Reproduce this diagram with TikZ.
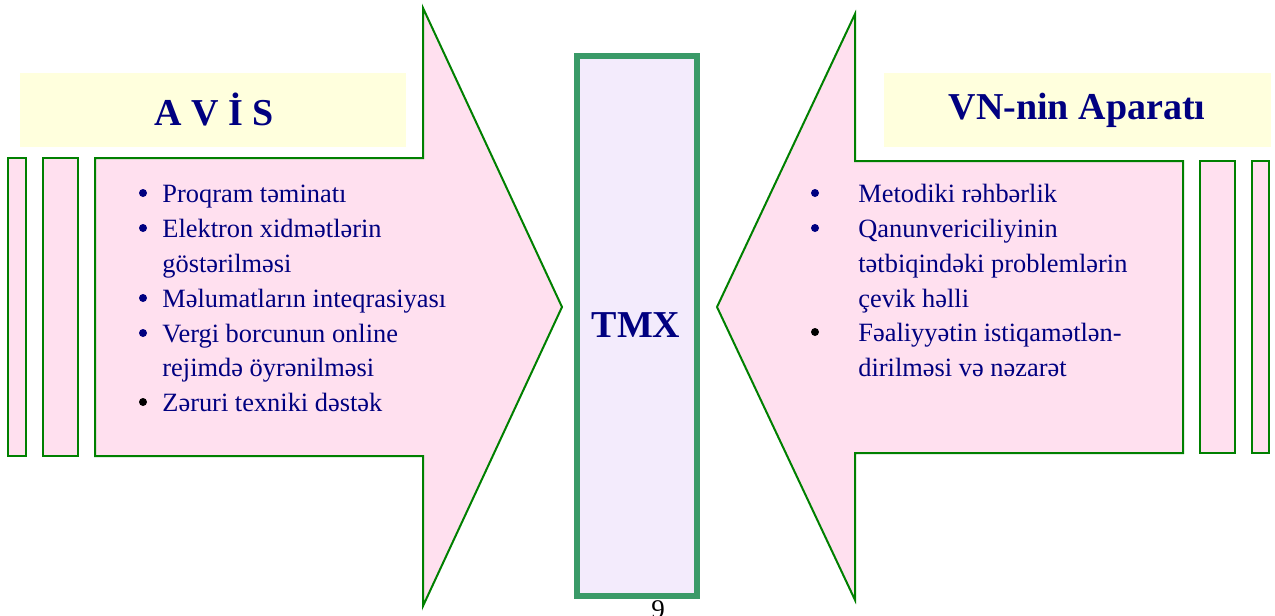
\documentclass[tikz,border=0pt]{standalone}
\usepackage{fontspec}
\setmainfont{Liberation Serif}
\definecolor{navyblue}{HTML}{000080}
\definecolor{arrowfill}{HTML}{FFE0EF}
\definecolor{arrowline}{HTML}{008000}
\definecolor{titlefill}{HTML}{FFFFDD}
\definecolor{tmxfill}{HTML}{F3EBFC}
\definecolor{tmxline}{HTML}{3A9A68}
\tikzset{
  arrowshape/.style={fill=arrowfill, draw=arrowline, line width=1pt, line join=miter},
  titlebox/.style={fill=titlefill, draw=none},
  titletext/.style={font=\fontsize{19}{23}\bfseries\selectfont, text=navyblue, inner sep=0pt},
  linetext/.style={anchor=base west, inner sep=0pt, font=\fontsize{13.2}{17}\selectfont, text=navyblue},
  bulletmark/.style={circle, fill=navyblue, inner sep=0pt, minimum size=4pt},
}
\begin{document}
\begin{tikzpicture}[x=0.5pt, y=-0.5pt]
\useasboundingbox (0,0) rectangle (1275,616);

% left block: strips and arrow pointing right
\draw[arrowshape] (8,158) rectangle (26,456);
\draw[arrowshape] (43,158) rectangle (78,456);
\draw[arrowshape] (95,158) -- (423,158) -- (423,8) -- (562,307) -- (423,606) -- (423,456) -- (95,456) -- cycle;

% right block: arrow pointing left and strips
\draw[arrowshape] (1183,161) -- (855,161) -- (855,14) -- (717,307) -- (855,600) -- (855,453) -- (1183,453) -- cycle;
\draw[arrowshape] (1200,161) rectangle (1235,453);
\draw[arrowshape] (1252,161) rectangle (1269,453);

% title boxes
\fill[titlebox] (20,73) rectangle (406,147);
\node[titletext] (avis) at (214,110) {A V İ S};
\fill[titlebox] (884,73) rectangle (1271,147);
\node[titletext] (vn) at (1077,110) {VN-nin Aparatı};

% central box
\draw[fill=tmxfill, draw=tmxline, line width=3.2pt] (577,56) rectangle (697,596);
\node[titletext, anchor=base] (tmx) at (636,337) {TMX};

% left list
\node[bulletmark] (lb1) at (143,193) {};
\node[linetext] (l1) at (162,202) {Proqram təminatı};
\node[bulletmark] (lb2) at (143,228) {};
\node[linetext] (l2) at (162,237) {Elektron xidmətlərin};
\node[linetext] (l3) at (162,272) {göstərilməsi};
\node[bulletmark] (lb3) at (143,298) {};
\node[linetext] (l4) at (162,307) {Məlumatların inteqrasiyası};
\node[bulletmark] (lb4) at (143,333) {};
\node[linetext] (l5) at (162,342) {Vergi borcunun online};
\node[linetext] (l6) at (162,376) {rejimdə öyrənilməsi};
\node[bulletmark, fill=black] (lb5) at (143,402) {};
\node[linetext] (l7) at (162,411) {Zəruri texniki dəstək};

% right list
\node[bulletmark] (rb1) at (815,193) {};
\node[linetext] (r1) at (858,202) {Metodiki rəhbərlik};
\node[bulletmark] (rb2) at (815,228) {};
\node[linetext] (r2) at (858,237) {Qanunvericiliyinin};
\node[linetext] (r3) at (858,272) {tətbiqindəki problemlərin};
\node[linetext] (r4) at (858,307) {çevik həlli};
\node[bulletmark, fill=black] (rb3) at (815,332) {};
\node[linetext] (r5) at (858,341) {Fəaliyyətin istiqamətlən-};
\node[linetext] (r6) at (858,376) {dirilməsi və nəzarət};

% page number
\node[anchor=base, inner sep=0pt, font=\fontsize{13.5}{16}\selectfont] (pageno) at (658,618) {9};
\end{tikzpicture}
\end{document}
